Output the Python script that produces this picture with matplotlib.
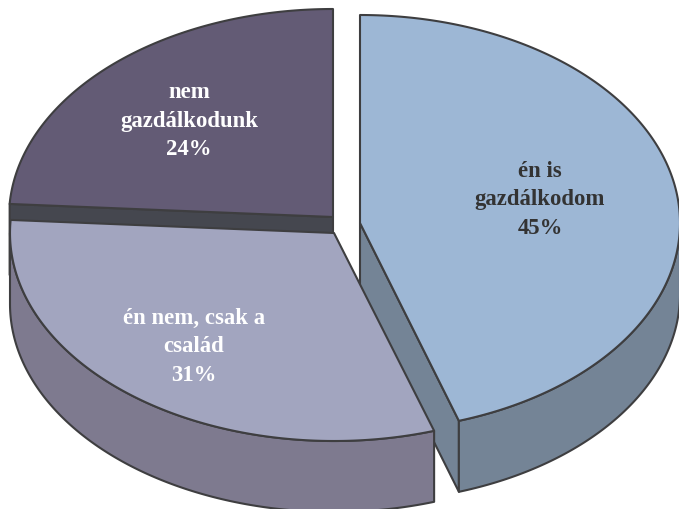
import numpy as np
import matplotlib
matplotlib.use("Agg")
import matplotlib.pyplot as plt
from matplotlib.patches import Polygon

labels = ["én is\ngazdálkodom", "én nem, csak a\ncsalád", "nem\ngazdálkodunk"]
values = [45, 31, 24]

top_colors = ["#9DB7D5", "#A2A5BF", "#635B75"]
side_colors = ["#748496", "#7E7A8F", "#45474F"]
text_colors = ["#333333", "#FFFFFF", "#FFFFFF"]

# slice centres (image pixels), each slice is pulled out by its own amount
centers = [(360, 224), (334, 234), (333, 218)]
radii = [320, 324, 324]
label_pos = [(540, 200), (194, 347), (189, 121)]
ry = 208
depth = 71
edge = "#3E3E40"
lw = 1.5


def arc(center, rx, a0, a1, n=200):
    # angles in degrees, clockwise from 12 o'clock
    t = np.radians(np.linspace(a0, a1, n))
    return np.column_stack((center[0] + rx * np.sin(t), center[1] - ry * np.cos(t)))


def add(ax, pts, color, z):
    ax.add_patch(Polygon(pts, closed=True, facecolor=color, edgecolor=edge,
                         linewidth=lw, joinstyle="round", zorder=z))


def main():
    plt.rcParams["font.family"] = ["Liberation Serif", "DejaVu Serif"]

    fig = plt.figure(figsize=(6.79, 5.10), dpi=100)
    ax = fig.add_axes([0, 0, 1, 1])
    ax.set_xlim(0, 679)
    ax.set_ylim(510, 0)
    ax.axis("off")

    shares = 360 * np.array(values) / sum(values)
    starts = np.concatenate(([0], np.cumsum(shares)[:-1]))

    # back slice first, the middle one overlaps the cut face of the first
    order = [2, 0, 1]
    for z, i in enumerate(order):
        c = np.array(centers[i], dtype=float)
        rx = radii[i]
        a0, a1 = starts[i], starts[i] + shares[i]
        down = np.array([0, depth])

        # cut faces, only those turned towards the viewer
        p0 = arc(c, rx, a0, a0, 1)[0]
        p1 = arc(c, rx, a1, a1, 1)[0]
        if 180 < a0 < 360:
            add(ax, [c, p0, p0 + down, c + down], side_colors[i], z * 3)
        if 0 < a1 < 180:
            add(ax, [c, p1, p1 + down, c + down], side_colors[i], z * 3)

        # outer wall, only the part that faces the viewer
        b0, b1 = max(a0, 90), min(a1, 270)
        if b1 > b0:
            rim = arc(c, rx, b0, b1)
            add(ax, np.vstack((rim, (rim + down)[::-1])), side_colors[i], z * 3 + 1)

        top = np.vstack((c, arc(c, rx, a0, a1)))
        add(ax, top, top_colors[i], z * 3 + 2)

    for i, lab in enumerate(labels):
        ax.text(label_pos[i][0], label_pos[i][1], f"{lab}\n{values[i]}%",
                ha="center", va="center", color=text_colors[i], fontsize=16.4,
                fontweight="bold", linespacing=1.47, zorder=20)

    fig.savefig("out.png", dpi=100)


if __name__ == "__main__":
    main()
